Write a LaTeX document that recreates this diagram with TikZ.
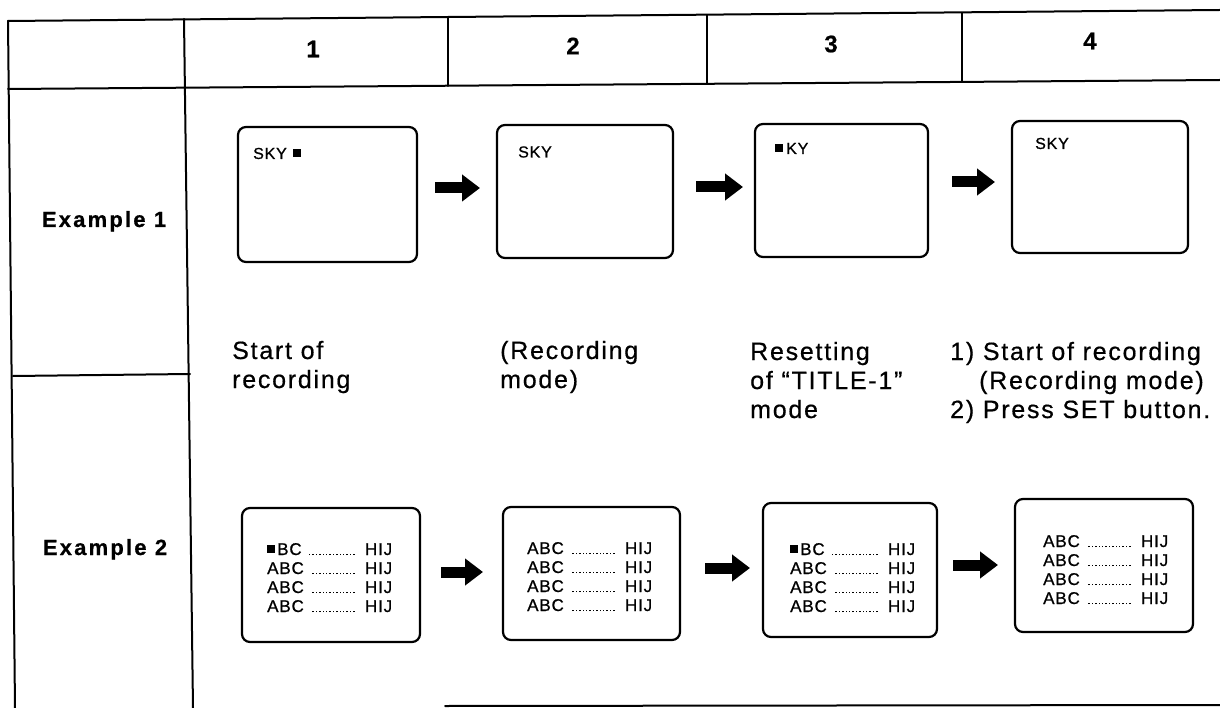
\documentclass[tikz,border=0pt]{standalone}
\usepackage{fontspec}
\setmainfont{Liberation Sans}
\newfontfamily\capf{Liberation Sans}[LetterSpace=7,FakeBold=0.6]
\newfontfamily\labf{Liberation Sans Bold}[LetterSpace=10,FakeBold=0.6]
\newfontfamily\numf{Liberation Sans Bold}[FakeBold=0.5]
\newfontfamily\scrf{Liberation Sans}[LetterSpace=5,FakeBold=0.8]
\usetikzlibrary{arrows.meta}
\newcommand\cur{\raisebox{1.8pt}{\rule{8pt}{8pt}}}
\newcommand\dotsline{\leaders\hbox to 3.4pt{\hss\rule{1.4pt}{1.4pt}\hss}\hfill}
\newcommand\abc[1]{\hbox to 125pt{#1\hskip 6pt\dotsline\hskip 7pt HIJ}}
\newcommand\scrlines[1]{\vbox{\baselineskip=19pt\lineskiplimit=-100pt #1}}
\newcommand\caplines[1]{\vbox{\baselineskip=29pt\lineskiplimit=-100pt #1}}
\begin{document}
\begin{tikzpicture}[x=1pt,y=-1pt,
  tbl/.style={line width=2pt, line cap=round},
  screen/.style={draw, line width=2.2pt, rounded corners=8pt, inner sep=0pt},
  bigarrow/.style={line width=11pt, -{Triangle[length=18pt,width=26pt]}},
  headnum/.style={font=\numf\fontsize{24}{28}\selectfont},
  exlabel/.style={font=\labf\fontsize{22}{26}\selectfont, anchor=base, inner sep=0pt},
  captxt/.style={font=\capf\fontsize{25}{29}\selectfont, anchor=base west, inner sep=0pt},
  scrtxt/.style={font=\scrf\fontsize{16}{19}\selectfont, anchor=base west, inner sep=0pt},
  listtxt/.style={font=\scrf\fontsize{17}{19}\selectfont, anchor=base west, inner sep=0pt}]
\useasboundingbox (0,0) rectangle (1220,708);
% table
\draw[tbl] (8,21) -- (1220,10);
\draw[tbl] (8,89) -- (1220,80);
\draw[tbl] (8,21) -- (15,708);
\draw[tbl] (184,19) -- (193,708);
\draw[tbl] (13,376) -- (190,374);
\draw[tbl] (448,17) -- (448,86);
\draw[tbl] (707,15) -- (707,84);
\draw[tbl] (962,13) -- (962,82);
\draw[tbl] (445,706) -- (1220,705);
% headers
\node[headnum] (h1) at (313,49) {1};
\node[headnum] (h2) at (573,46) {2};
\node[headnum] (h3) at (831,44) {3};
\node[headnum] (h4) at (1090,41) {4};
\node[exlabel] (ex1) at (104,227) {Example 1};
\node[exlabel] (ex2) at (105,555) {Example 2};
% example 1 screens
\node[screen, minimum width=179pt, minimum height=135pt] (s1) at (327.5,194.5) {};
\node[screen, minimum width=176pt, minimum height=133pt] (s2) at (585,191.5) {};
\node[screen, minimum width=173pt, minimum height=133pt] (s3) at (841.5,190.5) {};
\node[screen, minimum width=176pt, minimum height=132pt] (s4) at (1100,187) {};
\node[scrtxt] (t1) at (253,159) {SKY\hskip6pt\cur};
\node[scrtxt] (t2) at (518,157.5) {SKY};
\node[scrtxt] (t3) at (775,154) {\cur\hskip3pt KY};
\node[scrtxt] (t4) at (1035,149) {SKY};
\coordinate (a1s) at (435,188); \coordinate (a1e) at (480,188);
\coordinate (a2s) at (696,187); \coordinate (a2e) at (743,187);
\coordinate (a3s) at (952,182); \coordinate (a3e) at (995,182);
\draw[bigarrow] (a1s) -- (a1e);
\draw[bigarrow] (a2s) -- (a2e);
\draw[bigarrow] (a3s) -- (a3e);
% captions
\node[captxt] (c1) at (232,388) {\caplines{\hbox{Start of}\hbox{recording}}};
\node[captxt] (c2) at (500,388) {\caplines{\hbox{(Recording}\hbox{mode)}}};
\node[captxt] (c3) at (750,418) {\caplines{\hbox{Resetting}\hbox{of “TITLE-1”}\hbox{mode}}};
\node[captxt] (c4) at (950,418) {\caplines{\hbox{1) Start of recording}\hbox{\hskip29pt(Recording mode)}\hbox{2) Press SET button.}}};
% example 2 screens
\node[screen, minimum width=178pt, minimum height=134pt] (u1) at (331,575) {};
\node[screen, minimum width=177pt, minimum height=133pt] (u2) at (591.5,573.5) {};
\node[screen, minimum width=174pt, minimum height=134pt] (u3) at (850,570) {};
\node[screen, minimum width=178pt, minimum height=133pt] (u4) at (1104,565.5) {};
\node[listtxt] (l1) at (267,612) {\scrlines{\abc{\cur\hskip2pt BC}\abc{ABC}\abc{ABC}\abc{ABC}}};
\node[listtxt] (l2) at (527,611) {\scrlines{\abc{ABC}\abc{ABC}\abc{ABC}\abc{ABC}}};
\node[listtxt] (l3) at (790,612) {\scrlines{\abc{\cur\hskip2pt BC}\abc{ABC}\abc{ABC}\abc{ABC}}};
\node[listtxt] (l4) at (1043,604) {\scrlines{\abc{ABC}\abc{ABC}\abc{ABC}\abc{ABC}}};
\coordinate (b1s) at (441,572); \coordinate (b1e) at (483,572);
\coordinate (b2s) at (705,568); \coordinate (b2e) at (750,568);
\coordinate (b3s) at (953,565); \coordinate (b3e) at (998,565);
\draw[bigarrow] (b1s) -- (b1e);
\draw[bigarrow] (b2s) -- (b2e);
\draw[bigarrow] (b3s) -- (b3e);
\end{tikzpicture}
\end{document}
